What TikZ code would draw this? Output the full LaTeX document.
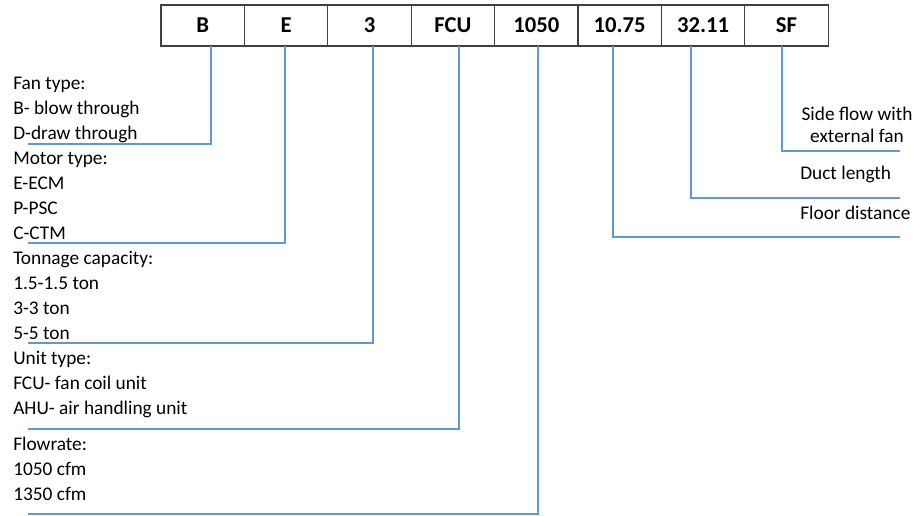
\documentclass[tikz,border=0pt]{standalone}
\usepackage{fontspec}
\setmainfont{Carlito}
\usepackage{tikz}
\usetikzlibrary{positioning}
\definecolor{linkblue}{HTML}{5B9BD5}
\definecolor{boxgray}{HTML}{404040}

\begin{document}
\begin{tikzpicture}[
			x=0.75pt, y=-0.75pt,
			codebox/.style={
					rectangle, draw=boxgray, line width=0.8pt, fill=white, outer sep=0pt,
					minimum width=62.55pt, minimum height=30.75pt, inner sep=0pt,
					font=\fontsize{17}{20}\selectfont\bfseries
				},
			legend/.style={
					anchor=north west, align=left, inner sep=0pt,
					font=\fontsize{14.5}{18.75}\selectfont
				},
			note/.style={
					anchor=base west, inner sep=0pt, font=\fontsize{14.5}{18}\selectfont
				},
			link/.style={draw=linkblue, line width=1.6pt}
		]
		\useasboundingbox (0,0) rectangle (914,515);

		% Code boxes, side by side
		\node[codebox] (b) at (202.7,25.5) {B};
		\node[codebox, right=0pt of b] (e) {E};
		\node[codebox, right=0pt of e] (ton) {3};
		\node[codebox, right=0pt of ton] (fcu) {FCU};
		\node[codebox, right=0pt of fcu] (flow) {1050};
		\node[codebox, right=0pt of flow] (floor) {10.75};
		\node[codebox, right=0pt of floor] (duct) {32.11};
		\node[codebox, right=0pt of duct] (sf) {SF};

		% Explanations on the left
		\node[legend] (fantxt) at (13,71.5) {\strut Fan type:\\B- blow through\\D-draw through};
		\node[legend] (motortxt) at (13,146.5) {\strut Motor type:\\E-ECM\\P-PSC\\C-CTM};
		\node[legend] (tontxt) at (13,246.5) {\strut Tonnage capacity:\\1.5-1.5 ton\\3-3 ton\\5-5 ton};
		\node[legend] (unittxt) at (13,346.5) {\strut Unit type:\\FCU- fan coil unit\\AHU- air handling unit};
		\node[legend] (flowtxt) at (13,432.5) {\strut Flowrate:\\1050 cfm\\1350 cfm};

		% Explanations on the right
		\node[anchor=north, align=center, inner sep=0pt, font=\fontsize{14.5}{16.3}\selectfont]
			(sidetxt) at (857,104.8) {\strut Side flow with\\external fan};
		\node[note] (ducttxt) at (800,179) {Duct length};
		\node[note] (floortxt) at (800,219) {Floor distance};

		% Free ends of the connectors
		\coordinate (fanend) at (28,144);
		\coordinate (motorend) at (28,243);
		\coordinate (tonend) at (28,343);
		\coordinate (unitend) at (28,429);
		\coordinate (flowend) at (28,514);
		\coordinate (sideend) at (900,151);
		\coordinate (ductend) at (900,198);
		\coordinate (floorend) at (900,237);

		% Connectors
		\draw[link] ([xshift=6.2pt]b.south) |- (fanend);
		\draw[link] ([xshift=-0.8pt]e.south) |- (motorend);
		\draw[link] ([xshift=2.6pt]ton.south) |- (tonend);
		\draw[link] ([xshift=4.6pt]fcu.south) |- (unitend);
		\draw[link] ([xshift=1.3pt]flow.south) |- (flowend);
		\draw[link] ([xshift=-5pt]floor.south) |- (floorend);
		\draw[link] ([xshift=-9.1pt]duct.south) |- (ductend);
		\draw[link] ([xshift=-3.4pt]sf.south) |- (sideend);

	\end{tikzpicture}
\end{document}
